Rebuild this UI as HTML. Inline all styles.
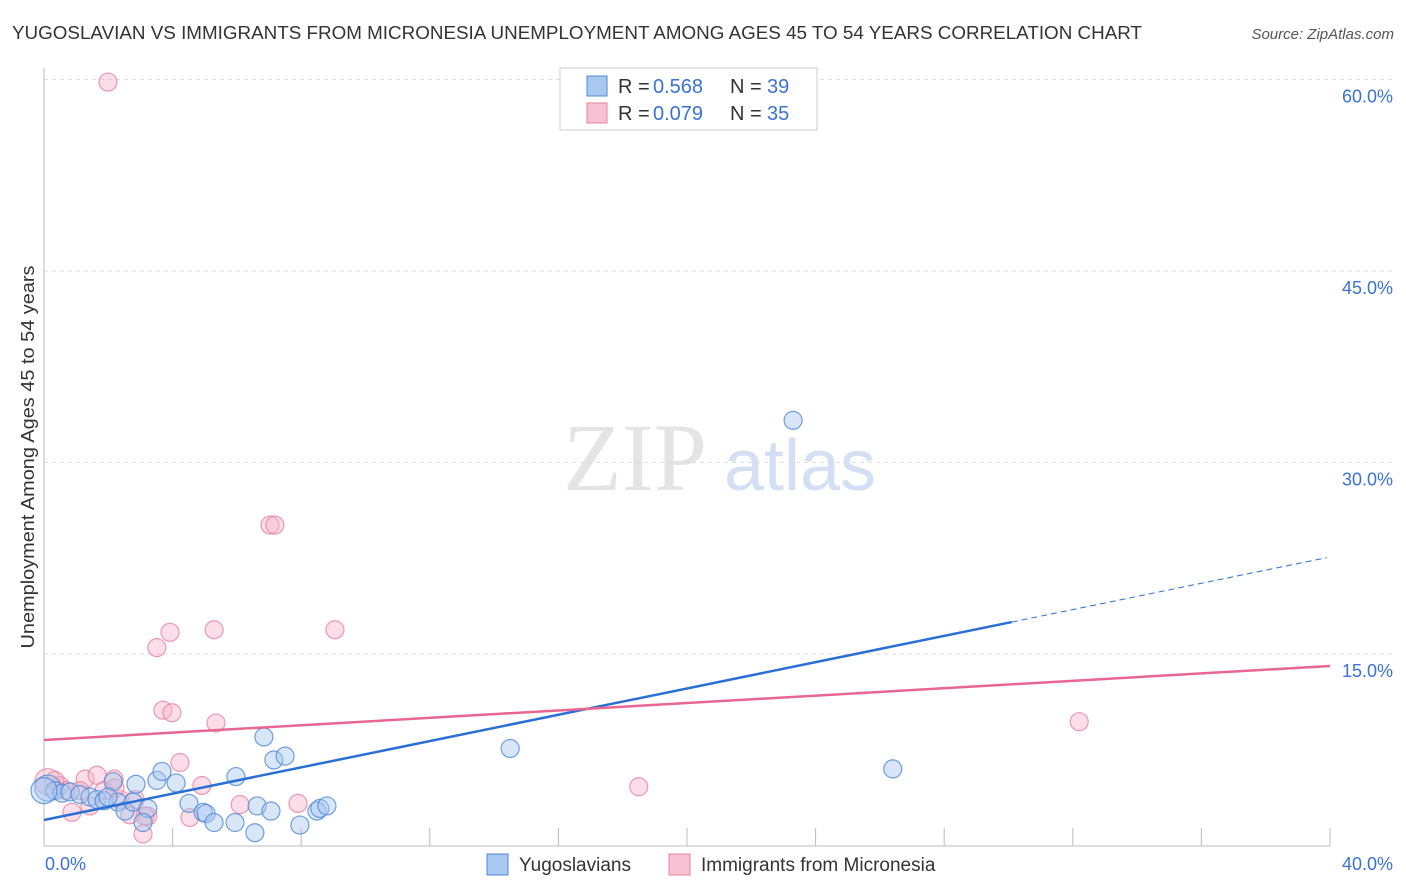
<!DOCTYPE html>
<html><head><meta charset="utf-8"><style>
body{margin:0;background:#fff;font-family:"Liberation Sans",sans-serif}
svg{display:block}
</style></head><body>
<svg id="c" width="1406" height="892"></svg>
<script>
const blueX=[0.12,0.34,0.56,0.81,1.12,1.43,1.65,1.87,2.15,2.30,2.52,2.77,2.86,3.23,3.08,3.51,3.67,4.11,4.51,4.95,5.04,5.29,5.94,5.97,6.56,6.63,6.84,7.06,7.15,7.50,7.96,8.49,8.58,8.80,14.5,23.3,26.4,0.0,1.99];
const blueY=[4.5,4.3,4.1,4.2,4.0,3.8,3.6,3.5,5.0,3.4,2.7,3.4,4.8,2.9,1.8,5.1,5.8,4.9,3.3,2.6,2.5,1.8,1.8,5.4,1.0,3.1,8.5,2.7,6.7,7.0,1.6,2.7,2.9,3.1,7.6,33.3,6.0,4.3,3.8];
const pinkX=[1.99,0.12,0.50,0.87,1.28,1.43,1.65,1.87,2.18,2.36,2.67,3.08,3.23,3.51,3.70,3.92,3.98,4.23,4.54,4.91,5.29,5.35,6.10,7.03,7.18,7.90,9.05,18.5,32.2,1.12,0.68,2.21,2.83,3.14,0.34];
const pinkY=[59.8,5.0,4.7,2.6,5.2,3.1,5.5,4.3,5.2,3.6,2.4,0.9,2.3,15.5,10.6,16.7,10.4,6.5,2.2,4.7,16.9,9.6,3.2,25.1,25.1,3.3,16.9,4.6,9.7,4.3,4.3,4.5,3.6,2.3,5.1];
const blueTrend=[2.0,0.515];
const pinkTrend=[8.26,0.145];
const yTicks=[15,30,45,60];
const yTickLabels=["15.0%","30.0%","45.0%","60.0%"];
const NS="http://www.w3.org/2000/svg";
const svg=document.getElementById('c');
const X=v=>44+v*1286/40, Y=v=>845.5-v*191.5/15;
function el(t,a,p){const e=document.createElementNS(NS,t);for(const k in a)e.setAttribute(k,a[k]);(p||svg).appendChild(e);return e;}
let t=el('text',{x:12,y:39,'font-size':18,fill:'#333',textLength:1130,lengthAdjust:'spacingAndGlyphs'});t.textContent="YUGOSLAVIAN VS IMMIGRANTS FROM MICRONESIA UNEMPLOYMENT AMONG AGES 45 TO 54 YEARS CORRELATION CHART";


t=el('text',{x:1394,y:39,'font-size':15,fill:'#555','font-style':'italic','text-anchor':'end'});t.textContent="Source: ZipAtlas.com";


t=el('text',{x:635,y:490,'font-size':96,fill:'#e4e4e4','font-family':'Liberation Serif','text-anchor':'middle'});t.textContent="ZIP";


t=el('text',{x:800,y:490,'font-size':72,fill:'#d3e0f3','text-anchor':'middle'});t.textContent="atlas";


yTicks.forEach((v,i)=>{
 const g=el('line',{x1:44,x2:1394,y1:Y(v),y2:Y(v),stroke:'#ddd','stroke-dasharray':'4,4'});
 
 
 const l=el('text',{x:1393,y:Y(v)+23,'font-size':18,fill:'#3b73d3','text-anchor':'end'});l.textContent=yTickLabels[i];
 
 
});
let a=el('line',{x1:44,x2:44,y1:68,y2:846,stroke:'#bbb'});
a=el('line',{x1:44,x2:1330,y1:846,y2:846,stroke:'#bbb'});
for(let i=1;i<=10;i++){const k=el('line',{x1:X(i*4),x2:X(i*4),y1:828,y2:846,stroke:'#bbb'});
 
 }
t=el('text',{x:45,y:870,'font-size':18,fill:'#3b73d3'});t.textContent="0.0%";

t=el('text',{x:1393,y:870,'font-size':18,fill:'#3b73d3','text-anchor':'end'});t.textContent="40.0%";

t=el('text',{x:0,y:0,'font-size':18,fill:'#333','text-anchor':'middle',textLength:383,lengthAdjust:'spacingAndGlyphs',transform:'translate(34,457) rotate(-90)'});t.textContent="Unemployment Among Ages 45 to 54 years";

function pts(xs,ys,fill,stroke,name){xs.forEach((x,i)=>{
 const c=el('circle',{cx:X(x),cy:Y(ys[i]),r:(x<0.2?13:9),fill:fill,'fill-opacity':0.45,stroke:stroke,'stroke-width':1.2,'stroke-opacity':0.8});
 
 
});}
pts(pinkX,pinkY,'#f7b6c9','#e8819f','micronesia-point');
pts(blueX,blueY,'#a9c8f0','#4d88d8','yugoslavian-point');
let tl=el('line',{x1:X(0),y1:Y(blueTrend[0]),x2:X(30.1),y2:Y(blueTrend[0]+blueTrend[1]*30.1),stroke:'#2a6fd6','stroke-width':2.5});

tl=el('line',{x1:X(30.1),y1:Y(blueTrend[0]+blueTrend[1]*30.1),x2:X(39.9),y2:Y(blueTrend[0]+blueTrend[1]*39.9),stroke:'#2a6fd6','stroke-width':1,'stroke-dasharray':'6,4'});

tl=el('line',{x1:X(0),y1:Y(pinkTrend[0]),x2:X(40),y2:Y(pinkTrend[0]+pinkTrend[1]*40),stroke:'#e8668f','stroke-width':2.5});

const lg=el('g',{});
el('rect',{x:560,y:68,width:257,height:62,fill:'#fff',stroke:'#ccc'},lg);
[[ '#a9c8f0','#4d88d8','0.568','39',86],['#f7c3d3','#e8819f','0.079','35',113]].forEach(r=>{
 el('rect',{x:587,y:r[4]-10,width:20,height:20,fill:r[0],stroke:r[1]},lg);
 let tx=el('text',{x:618,y:r[4]+7,'font-size':20,fill:'#333'},lg);tx.textContent='R =';
 tx=el('text',{x:653,y:r[4]+7,'font-size':20,fill:'#3b73d3'},lg);tx.textContent=r[2];
 tx=el('text',{x:730,y:r[4]+7,'font-size':20,fill:'#333'},lg);tx.textContent='N =';
 tx=el('text',{x:767,y:r[4]+7,'font-size':20,fill:'#3b73d3'},lg);tx.textContent=r[3];
});
[[487,'#a9c8f0','#4d88d8','Yugoslavians','legend-yugoslavians'],[669,'#f7c3d3','#e8819f','Immigrants from Micronesia','legend-micronesia']].forEach(r=>{
 const g=el('g',{});
 el('rect',{x:r[0],y:854,width:21,height:21,fill:r[1],stroke:r[2]},g);
 const tx=el('text',{x:r[0]+32,y:871,'font-size':19,fill:'#333'},g);tx.textContent=r[3];
});
</script>
</body></html>
